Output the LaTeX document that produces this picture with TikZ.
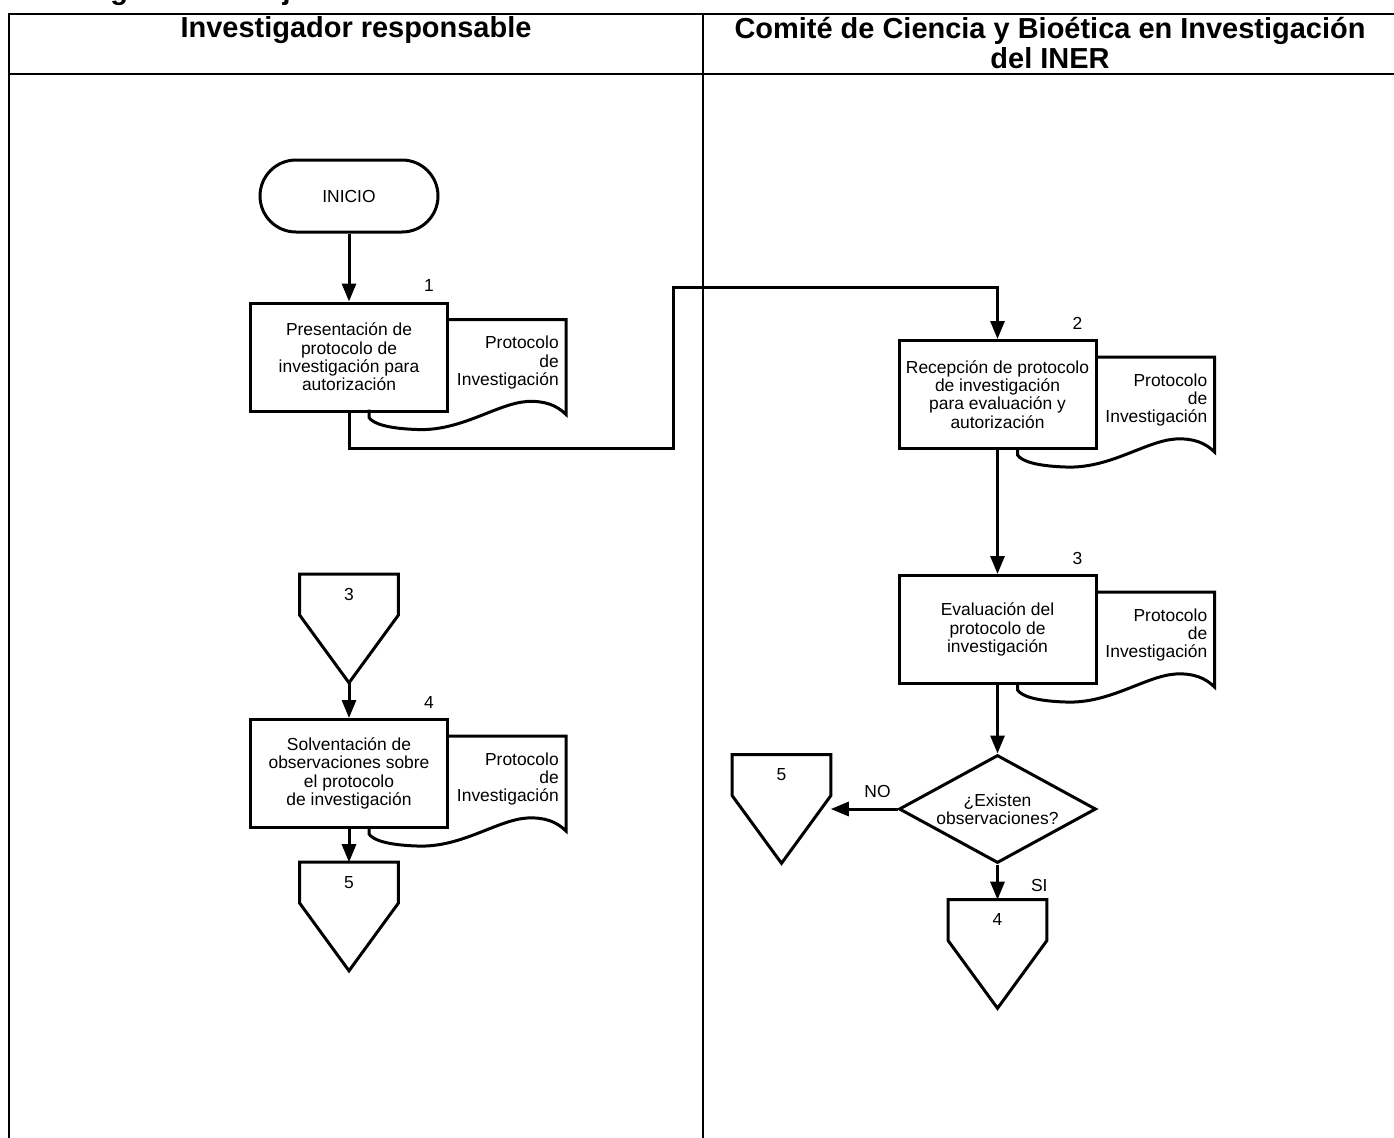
\documentclass[tikz,border=0pt]{standalone}
\usepackage{fontspec}
\setmainfont{Liberation Sans}
\usetikzlibrary{arrows.meta,positioning,shapes.geometric}

\begin{document}
\begin{tikzpicture}[
  x=0.25mm, y=-0.25mm,
  every node/.style={font=\fontsize{12.4}{13}\selectfont},
  ln/.style={draw=black, line width=0.75mm},
  lane/.style={draw=black, line width=0.55mm},
  head/.style={font=\fontsize{20.6}{21}\selectfont\bfseries, align=center, inner sep=0},
  proc/.style={ln, fill=white, minimum width=49.25mm, minimum height=27mm, align=center, inner sep=1mm},
  term/.style={ln, rounded corners=9mm, minimum width=44.5mm, minimum height=18mm},
  offp/.style={minimum width=24.5mm, minimum height=27mm, inner sep=0},
  decis/.style={ln, diamond, aspect=1.8, minimum width=49.25mm, minimum height=27mm, inner sep=0, align=center},
  num/.style={inner sep=0},
  lbl/.style={inner sep=0},
  doctxt/.style={align=right, anchor=east, inner sep=0},
  arrow/.style={ln, -{Triangle[length=4.5mm,width=3.5mm]}},
  docu/.pic={
    \draw[ln] (0,18) -- (117,18) -- (117,113)
      .. controls (108,104) and (96,99) .. (78,100)
      .. controls (48,102) and (12,130) .. (-32,128)
      .. controls (-62,127) and (-76,122) .. (-80,116) -- (-80,108);
    \node[doctxt] (-txt) at (110,61) {Protocolo\\de\\Investigación};
  }
]
\useasboundingbox (0,0) rectangle (1394,1137);
\fill[white] (0,0) rectangle (1394,1137);

% swimlanes
\node[head, anchor=base west] (ttl) at (65,0) {Diagrama de flujo};
\draw[lane] (9,1140) -- (9,14) -- (1397,14);
\draw[lane] (9,74) -- (1397,74);
\draw[lane] (703,14) -- (703,1140);
\node[head, anchor=base] (lane1) at (356,38) {Investigador responsable};
\node[head, anchor=north] (lane2) at (1050,17) {Comité de Ciencia y Bioética en Investigación\\del INER};

% steps
\node[term] (ini) at (349,196) {INICIO};
\node[proc] (pres) at (349,357) {Presentación de\\protocolo de\\investigación para\\autorización};
\node[proc] (recep) at (997.5,394.5) {Recepción de protocolo\\de investigación\\para evaluación y\\autorización};
\node[proc] (eval) at (997.5,629.5) {Evaluación del\\protocolo de\\investigación};
\node[decis] (obs) at (997.5,809) {¿Existen\\observaciones?};
\node[offp] (op5b) at (781.5,809) {};
\node[offp] (op4) at (997.5,954) {};
\node[offp] (op3) at (349,628.5) {};
\node[proc] (solv) at (349,773.5) {Solventación de\\observaciones sobre\\el protocolo\\de investigación};
\node[offp] (op5a) at (349,916.5) {};

% documents and step numbers
\foreach \b/\n in {pres/1,recep/2,eval/3,solv/4} {
  \pic (doc\b) at (\b.north east) {docu};
  \node[num] (n\n) at ([shift={(-20,-16)}]\b.north east) {\n};
}

% off-page connectors
\foreach \c/\t in {op3/3,op5a/5,op5b/5,op4/4} {
  \draw[ln] (\c.north west) -- (\c.north east) -- ([yshift=-10.25mm]\c.north east)
    -- (\c.south) -- ([yshift=-10.25mm]\c.north west) -- cycle;
  \node (\c-t) at ([yshift=-5mm]\c.north) {\t};
}

\draw[arrow] (ini) -- (pres);
\draw[arrow] (pres.south) |- (673,448) -- (673,287) -| (recep.north);
\draw[arrow] (recep) -- (eval);
\draw[arrow] (eval) -- (obs);
\draw[arrow] (obs.west) -- node[lbl, pos=0.3, above=2.5mm] (no) {NO} (op5b.east);
\draw[arrow] (obs.south) -- node[lbl, pos=0.6, right=8mm] (si) {SI} (op4.north);
\draw[arrow] (op3.south) -- (solv);
\draw[arrow] (solv) -- (op5a);
\end{tikzpicture}
\end{document}
